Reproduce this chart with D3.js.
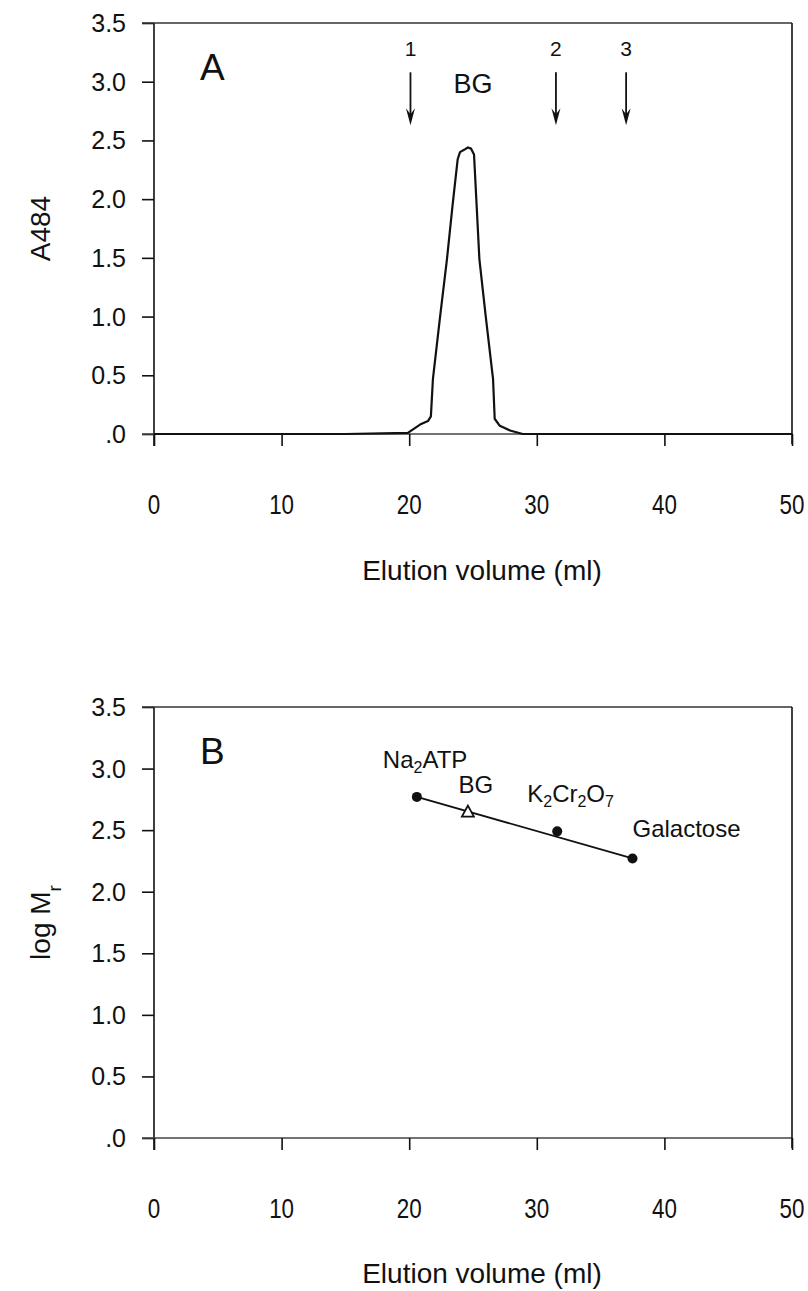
<!DOCTYPE html>
<html>
<head>
<meta charset="utf-8">
<script src="https://cdn.jsdelivr.net/npm/d3@7"></script>
<style>
  html, body { margin: 0; padding: 0; background: #fff; }
  svg { display: block; }
  text { font-family: "Liberation Sans", Arial, sans-serif; fill: #111; }
</style>
</head>
<body>
<svg id="chart" width="808" height="1291"></svg>
<script>
// ---------- Data ----------
// Panel A: elution profile (A484 vs elution volume, ml)
const elutionVolume = [0, 5, 10, 15, 19.9, 20.3, 20.85, 21.47, 21.7, 21.86, 22.4, 22.96, 23.4, 23.8, 23.98, 24.3, 24.6, 24.85, 25.08, 25.5, 26.0, 26.57, 26.7, 27.1, 27.9, 28.9, 35, 40, 45, 50];
const absorbance    = [0, 0, 0, 0, 0.01, 0.04, 0.08, 0.11, 0.15, 0.47, 0.98, 1.49, 1.95, 2.34, 2.40, 2.42, 2.44, 2.43, 2.38, 1.49, 1.0, 0.47, 0.13, 0.07, 0.03, 0.0, 0, 0, 0, 0];
// Marker arrows in panel A
const markerVolumes = [20.1, 31.5, 37.0];
const markerLabels  = ["1", "2", "3"];
const peakLabel = "BG";
const peakLabelVolume = 25.0;

// Panel B: calibration standards
const standardNames   = ["Na2ATP", "K2Cr2O7", "Galactose"];
const standardVolumes = [20.6, 31.6, 37.5];
const standardLogMr   = [2.77, 2.49, 2.27];
const sampleName   = "BG";
const sampleVolume = 24.6;
const sampleLogMr  = 2.65;

// Axes
const xTicks = [0, 10, 20, 30, 40, 50];
const yTicks = [0, 0.5, 1.0, 1.5, 2.0, 2.5, 3.0, 3.5];
const yTickLabels = [".0", "0.5", "1.0", "1.5", "2.0", "2.5", "3.0", "3.5"];
const xTitle = "Elution volume (ml)";

// ---------- Drawing ----------
const svg = d3.select("#chart");
const x = d3.scaleLinear().domain([0, 50]).range([154, 792]);
const yA = d3.scaleLinear().domain([0, 3.5]).range([434, 23]);
const yB = d3.scaleLinear().domain([0, 3.5]).range([1138, 707]);

function frame(y, panelLetter, yTitleParts, titleY) {
  const g = svg.append("g");
  const x0 = x.range()[0], x1 = x.range()[1];
  const yb = y(0), yt = y(3.5);
  // left axis with outward ticks
  const yAxis = d3.axisLeft(y).tickValues(yTicks).tickSize(12).tickFormat("");
  g.append("g").attr("transform", `translate(${x0},0)`).call(yAxis)
    .call(s => s.selectAll("path,line").attr("stroke", "#111").attr("stroke-width", 1.6))
    .call(s => s.select(".domain").attr("d", `M0,${yt}V${yb + 12}`));
  // bottom axis with downward ticks
  const xAxis = d3.axisBottom(x).tickValues(xTicks).tickSize(12).tickFormat("");
  g.append("g").attr("transform", `translate(0,${yb})`).call(xAxis)
    .call(s => s.selectAll("line").attr("stroke", "#111").attr("stroke-width", 1.6))
    .call(s => s.select(".domain").attr("d", `M${x0 - 12},0H${x1}`).attr("stroke", "#444").attr("stroke-width", 1.6));
  // top and right borders
  g.append("line").attr("x1", x0 - 12).attr("x2", x1).attr("y1", yt).attr("y2", yt)
    .attr("stroke", "#333").attr("stroke-width", 1.6);
  g.append("line").attr("x1", x1).attr("x2", x1).attr("y1", yt).attr("y2", yb + 10)
    .attr("stroke", "#111").attr("stroke-width", 1.6);
  // y tick labels
  g.selectAll(".ytl").data(yTicks).enter().append("text")
    .attr("x", 126).attr("y", d => y(d)).attr("dy", "0.36em")
    .attr("text-anchor", "end").attr("font-size", 25)
    .text((d, i) => yTickLabels[i]);
  // x tick labels (condensed look)
  g.selectAll(".xtl").data(xTicks).enter().append("text")
    .attr("transform", d => `translate(${x(d)},${yb + 80}) scale(0.8,1)`)
    .attr("text-anchor", "middle").attr("font-size", 28)
    .text(d => d);
  // x title
  g.append("text").attr("x", 482).attr("y", titleY)
    .attr("text-anchor", "middle").attr("font-size", 28)
    .text(xTitle);
  // y title
  const yt2 = g.append("text")
    .attr("transform", `translate(50,${(yb + yt) / 2}) rotate(-90)`)
    .attr("text-anchor", "middle").attr("font-size", 28);
  yTitleParts.forEach(p => {
    const ts = yt2.append("tspan").text(p.t);
    if (p.sub) ts.attr("baseline-shift", "sub").attr("font-size", 19);
  });
  // panel letter
  g.append("text").attr("x", 200).attr("y", yt + 57).attr("font-size", 37).text(panelLetter);
}

// Panel A
frame(yA, "A", [{t: "A484"}], 580);

const line = d3.line().x(d => x(d[0])).y(d => yA(d[1]));
svg.append("path")
  .datum(elutionVolume.map((v, i) => [v, absorbance[i]]))
  .attr("d", line).attr("fill", "none").attr("stroke", "#111").attr("stroke-width", 2.2)
  .attr("stroke-linejoin", "round");

// arrows
const arrowTop = yA(3.08), arrowBot = yA(2.63);
const ag = svg.append("g");
markerVolumes.forEach((v, i) => {
  const cx = x(v);
  ag.append("line").attr("x1", cx).attr("x2", cx).attr("y1", arrowTop).attr("y2", arrowBot - 8)
    .attr("stroke", "#111").attr("stroke-width", 1.8);
  ag.append("path")
    .attr("d", `M${cx - 4.5},${arrowBot - 17}L${cx},${arrowBot}L${cx + 4.5},${arrowBot - 17}L${cx},${arrowBot - 11}Z`)
    .attr("fill", "#111");
  ag.append("text").attr("x", cx).attr("y", arrowTop - 16)
    .attr("text-anchor", "middle").attr("font-size", 21).text(markerLabels[i]);
});
svg.append("text").attr("x", x(peakLabelVolume)).attr("y", yA(2.9))
  .attr("text-anchor", "middle").attr("font-size", 27).text(peakLabel);

// Panel B
frame(yB, "B", [{t: "log M"}, {t: "r", sub: true}], 1283);

const stdPts = standardVolumes.map((v, i) => [v, standardLogMr[i]]);
svg.append("line")
  .attr("x1", x(stdPts[0][0])).attr("y1", yB(stdPts[0][1]))
  .attr("x2", x(stdPts[stdPts.length - 1][0])).attr("y2", yB(stdPts[stdPts.length - 1][1]))
  .attr("stroke", "#111").attr("stroke-width", 1.8);
svg.selectAll(".std").data(stdPts).enter().append("circle")
  .attr("cx", d => x(d[0])).attr("cy", d => yB(d[1])).attr("r", 5).attr("fill", "#111");
// BG triangle
const tx = x(sampleVolume), ty = yB(sampleLogMr);
svg.append("path").attr("d", `M${tx},${ty - 6}L${tx + 6},${ty + 5}L${tx - 6},${ty + 5}Z`)
  .attr("fill", "#fff").attr("stroke", "#111").attr("stroke-width", 1.8);

// labels with subscripts
function chemLabel(xp, yp, anchor, name) {
  const t = svg.append("text").attr("x", xp).attr("y", yp).attr("font-size", 24).attr("text-anchor", anchor);
  const parts = name.match(/[A-Za-z]+|\d+/g);
  parts.forEach(p => {
    const ts = t.append("tspan").text(p);
    if (/^\d+$/.test(p)) ts.attr("baseline-shift", "-30%").attr("font-size", 16);
  });
}
const lblDx = [-34, -30, 0], lblDy = [-29, -29, -21];
standardNames.forEach((n, i) => chemLabel(x(standardVolumes[i]) + lblDx[i], yB(standardLogMr[i]) + lblDy[i], "start", n));
svg.append("text").attr("x", tx + 8).attr("y", ty - 19).attr("text-anchor", "middle")
  .attr("font-size", 24).text(sampleName);
</script>
</body>
</html>
